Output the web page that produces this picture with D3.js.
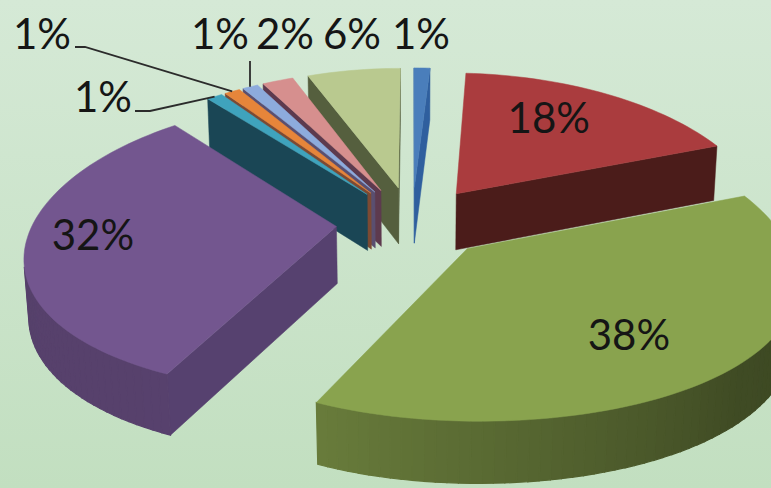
<!DOCTYPE html>
<html>
<head>
<meta charset="utf-8">
<script src="https://cdn.jsdelivr.net/npm/d3@7"></script>
<style>
  html, body { margin: 0; padding: 0; background: #cfe6cf; }
  svg { display: block; }
  text { font-family: Lato, "Open Sans", sans-serif; fill: #151515; }
</style>
</head>
<body>
<svg id="chart" width="771" height="488"></svg>
<script>
// Share of each slice, clockwise from twelve o'clock
const sliceNames = ["a", "b", "c", "d", "e", "f", "g", "h", "i"];
const sliceValues = [1, 18, 38, 32, 1, 1, 1, 2, 6];
const sliceLabels = ["1%", "18%", "38%", "32%", "1%", "1%", "1%", "2%", "6%"];

// Top face and radial wall colours
const topColors = ["#4a7ebb", "#aa3c3e", "#89a34e", "#73568f", "#3fa3bd", "#e6853a", "#8dabdc", "#d68f8e", "#b9c98f"];
const wallColors = ["#2f5f9e", "#4b1c1a", "#55652c", "#56416f", "#1a4655", "#7c4a33", "#5a4f70", "#5d3a4e", "#555f3e"];

// Painter's order: far slices first, the big near slices last
const paintOrder = [0, 8, 7, 6, 5, 4, 1, 3, 2];

const svg = d3.select("#chart");
const width = 771, height = 488;

// Page background
const defs = svg.append("defs");
const bg = defs.append("linearGradient").attr("id", "bg").attr("x1", 0).attr("y1", 0).attr("x2", 0).attr("y2", 1);
bg.append("stop").attr("offset", "0%").attr("stop-color", "#d5e9d6");
bg.append("stop").attr("offset", "100%").attr("stop-color", "#c2dfc0");
svg.append("rect").attr("width", width).attr("height", height).attr("fill", "url(#bg)");

// Perspective view of the pie: unit radius on the ground plane
const cx = 412, cy = 222, radiusLeft = 303, radiusRight = 312, radiusY = 143;
const perspectiveX = 0.178, perspectiveY = 0.128;
const fadeX = 0.012, fadeY = 0.02, thickness = 58, explode = 0.25;

function project(X, Y, z) {
  const wx = 1 + perspectiveX * Y + fadeX * z;
  const wy = 1 + perspectiveY * Y + fadeY * z;
  const radiusX = X < 0 ? radiusLeft : radiusRight;
  return [cx + radiusX * X / wx, cy + (-radiusY * Y + thickness * z) / wy];
}

// Shading of the curved rim as it turns away from the light
const rimShade = d3.scaleLinear()
  .domain([60, 135, 205, 300])
  .range([0.42, 0.46, 0.76, 0.74])
  .clamp(true);

const pie = d3.pie().sort(null).value(d => d);
const arcs = pie(sliceValues);
const toPath = d3.line();

const signedArea = pts => d3.polygonArea(pts);

function sliceGeometry(arc) {
  const mid = (arc.startAngle + arc.endAngle) / 2;
  const ox = Math.sin(mid) * explode, oy = Math.cos(mid) * explode;
  const steps = Math.max(2, Math.ceil((arc.endAngle - arc.startAngle) / 0.03));
  const angles = d3.range(steps + 1).map(i => arc.startAngle + (arc.endAngle - arc.startAngle) * i / steps);
  const point = (a, r, z) => project(ox + Math.sin(a) * r, oy + Math.cos(a) * r, z);
  return { mid, ox, oy, angles, point };
}

const root = svg.append("g");

paintOrder.forEach(i => {
  const arc = arcs[i];
  const { angles, point } = sliceGeometry(arc);
  const g = root.append("g").attr("class", "slice " + sliceNames[i]);

  // Radial walls, only the side that faces the viewer
  [arc.startAngle, arc.endAngle].forEach((a, k) => {
    const wall = [point(a, 0, 0), point(a, 1, 0), point(a, 1, 1), point(a, 0, 1)];
    const area = signedArea(wall);
    const facing = k === 0 ? area > 0 : area < 0;
    if (facing) {
      g.append("path").attr("d", toPath(wall) + "Z")
        .attr("fill", wallColors[i]).attr("stroke", wallColors[i]).attr("stroke-width", 0.5);
    }
  });

  // Curved rim in thin shaded strips, near half only
  d3.pairs(angles).forEach(([a0, a1]) => {
    const strip = [point(a0, 1, 0), point(a1, 1, 0), point(a1, 1, 1), point(a0, 1, 1)];
    if (signedArea(strip) > 0) {
      const c = d3.rgb(topColors[i]);
      const s = rimShade((a0 + a1) / 2 * 180 / Math.PI);
      const col = d3.rgb(c.r * s, c.g * s, c.b * s).formatHex();
      g.append("path").attr("d", toPath(strip) + "Z")
        .attr("fill", col).attr("stroke", col).attr("stroke-width", 1.2);
    }
  });

  // Top face
  const top = [point(0, 0, 0)].concat(angles.map(a => point(a, 1, 0)));
  g.append("path").attr("d", toPath(top) + "Z")
    .attr("fill", topColors[i]).attr("stroke", topColors[i]).attr("stroke-width", 0.5);
});

// Labels inside the three big slices, placed along the slice radius
const insideLabels = [
  { index: 1, turn: 0.42, r: 0.69 },
  { index: 2, turn: 0.53, r: 0.69 },
  { index: 3, turn: 0.524, r: 0.79 }
];
insideLabels.forEach(d => {
  const arc = arcs[d.index];
  const { point } = sliceGeometry(arc);
  const a = arc.startAngle + (arc.endAngle - arc.startAngle) * d.turn;
  const [x, y] = point(a, d.r, 0);
  svg.append("text").attr("x", x).attr("y", y + 4).attr("text-anchor", "middle")
    .attr("dominant-baseline", "middle").attr("font-size", 42).text(sliceLabels[d.index]);
});

// Labels above the small slices
const outsideLabels = [
  { index: 0, x: 421, y: 49 },
  { index: 8, x: 352, y: 49 },
  { index: 7, x: 285, y: 49 },
  { index: 6, x: 220, y: 49 },
  { index: 5, x: 42, y: 49 },
  { index: 4, x: 103, y: 112 }
];
outsideLabels.forEach(d => {
  svg.append("text").attr("x", d.x).attr("y", d.y).attr("text-anchor", "middle")
    .attr("font-size", 42).text(sliceLabels[d.index]);
});

// Leader lines from the crowded labels down to their slices
const rimPoint = i => {
  const { mid, point } = sliceGeometry(arcs[i]);
  return point(mid, 1, 0);
};
const leaders = [
  { index: 5, from: [75, 47], elbow: [85, 47] },
  { index: 4, from: [135, 111], elbow: [150, 111] }
];
leaders.forEach(d => {
  svg.append("path")
    .attr("d", toPath([d.from, d.elbow, rimPoint(d.index)]))
    .attr("fill", "none").attr("stroke", "#2b2b2b").attr("stroke-width", 1.8);
});

// The third leader drops straight onto its slice
svg.append("path")
  .attr("d", toPath([[250, 61], [250, rimPoint(6)[1]]]))
  .attr("fill", "none").attr("stroke", "#2b2b2b").attr("stroke-width", 1.8);
</script>
</body>
</html>
